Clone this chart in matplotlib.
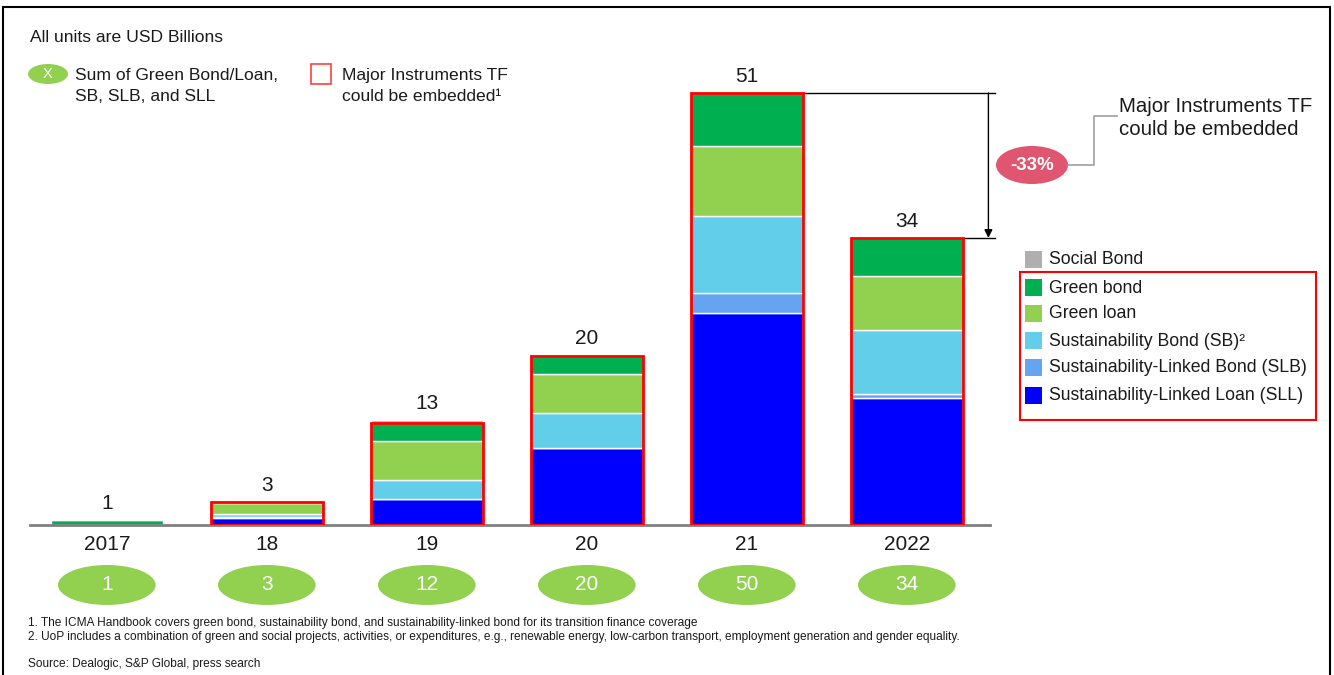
import numpy as np
import matplotlib
matplotlib.use("Agg")
import matplotlib.pyplot as plt
from matplotlib.patches import Rectangle, Ellipse
from matplotlib.lines import Line2D

plt.rcParams['font.family'] = ['Liberation Sans', 'DejaVu Sans']

# ===== data (USD bn) =====
years = ['2017', '18', '19', '20', '21', '2022']
social_bond = [0.0, 0.0, 0.3, 0.2, 0.0, 0.0]
green_bond = [0.6, 0.15, 2.2, 2.1, 6.3, 4.5]
green_loan = [0.0, 1.2, 4.6, 4.6, 8.3, 6.4]
sb = [0.0, 0.45, 2.2, 4.1, 9.0, 7.6]
slb = [0.0, 0.1, 0.0, 0.05, 2.4, 0.45]
sll = [0.0, 0.8, 3.1, 9.1, 25.1, 15.0]
total_labels = ['1', '3', '13', '20', '51', '34']
sum_labels = ['1', '3', '12', '20', '50', '34']
tf_box = [False, True, True, True, True, True]

series = [
    ('Sustainability-Linked Loan (SLL)', sll, '#0000FF'),
    ('Sustainability-Linked Bond (SLB)', slb, '#66A3F0'),
    ('Sustainability Bond (SB)²', sb, '#63CEEA'),
    ('Green loan', green_loan, '#92D050'),
    ('Green bond', green_bond, '#00B050'),
    ('Social Bond', social_bond, '#AFAFAF'),
]

W, H = 1334, 675
fig = plt.figure(figsize=(W / 100, H / 100), dpi=100)

def fx(px):
    return px / W

def fy(py):
    return 1 - py / H

# main axes: baseline at y=525px, x from 30 to 990 px
ax = fig.add_axes([fx(30), fy(525), fx(990) - fx(30), fy(60) - fy(525)])
ax.set_xlim(-0.48, 5.52)
ax.set_ylim(0, 55)
ax.axis('off')

x = np.arange(len(years))
bw = 0.7
bottom = np.zeros(len(years))
for name, vals, col in series:
    vals = np.array(vals)
    ax.bar(x, vals, bw, bottom=bottom, color=col, edgecolor='white', linewidth=1.0)
    bottom += vals

# red boxes = instruments TF could be embedded
core = np.array(sll) + np.array(slb) + np.array(sb) + np.array(green_loan) + np.array(green_bond)
for i in range(len(years)):
    if tf_box[i]:
        ax.add_patch(Rectangle((x[i] - bw / 2, 0), bw, core[i], fill=False,
                               edgecolor='#FF0000', linewidth=2, zorder=5))

# baseline
ax.plot([-0.48, 5.52], [0, 0], color='#808080', lw=2, clip_on=False, zorder=4)

# totals above bars
for i in range(len(years)):
    ax.annotate(total_labels[i], (x[i], bottom[i]), xytext=(0, 5), textcoords='offset points',
                ha='center', va='bottom', fontsize=15, color='#1a1a1a')

# year labels + sum ellipses
xt = ax.get_xaxis_transform()
for i in range(len(years)):
    ax.text(x[i], -0.043, years[i], transform=xt, ha='center', va='center',
            fontsize=15, color='#1a1a1a', clip_on=False)
    ax.add_patch(Ellipse((x[i], -0.129), 0.61, 0.086, transform=xt,
                         facecolor='#92D050', edgecolor='none', clip_on=False))
    ax.text(x[i], -0.129, sum_labels[i], transform=xt, ha='center', va='center',
            fontsize=15, color='white', clip_on=False)

# -33% bracket between 2021 and 2022
ax.plot([x[4] + bw / 2, 5.55], [core[4], core[4]], color='black', lw=1, clip_on=False)
ax.plot([x[5] + bw / 2, 5.55], [core[5], core[5]], color='black', lw=1, clip_on=False)
ax.annotate('', xy=(5.51, core[5]), xytext=(5.51, core[4]),
            arrowprops=dict(arrowstyle='-|>', color='black', lw=1, mutation_scale=12,
                            shrinkA=0, shrinkB=0), annotation_clip=False)

fig.patches.append(Ellipse((fx(1032), fy(165)), 72 / W, 38 / H, transform=fig.transFigure,
                           facecolor='#E05570', edgecolor='none'))
fig.text(fx(1032), fy(165), '-33%', ha='center', va='center', fontsize=13.5,
         color='white', fontweight='bold')
fig.lines.append(Line2D([fx(1068), fx(1094), fx(1094), fx(1117)],
                        [fy(165), fy(165), fy(116), fy(116)],
                        transform=fig.transFigure, color='#A0A0A0', lw=1.2))
fig.text(fx(1119), fy(118), 'Major Instruments TF\ncould be embedded', ha='left',
         va='center', fontsize=14.7, color='#1a1a1a', linespacing=1.3)

# top-left legend
fig.text(fx(30), fy(37), 'All units are USD Billions', ha='left', va='center',
         fontsize=12.6, color='#1a1a1a')
fig.patches.append(Ellipse((fx(48), fy(74)), 40 / W, 20 / H, transform=fig.transFigure,
                           facecolor='#92D050', edgecolor='none'))
fig.text(fx(48), fy(74), 'X', ha='center', va='center', fontsize=10.5, color='white')
fig.text(fx(75), fy(86), 'Sum of Green Bond/Loan,\nSB, SLB, and SLL', ha='left',
         va='center', fontsize=12.6, color='#1a1a1a', linespacing=1.45)
fig.patches.append(Rectangle((fx(311), fy(84)), 20 / W, 20 / H, transform=fig.transFigure,
                             facecolor='white', edgecolor='#FF4040', lw=1.2))
fig.text(fx(342), fy(86), 'Major Instruments TF\ncould be embedded¹', ha='left',
         va='center', fontsize=12.6, color='#1a1a1a', linespacing=1.45)

# right legend
leg_y = [260, 288, 314, 341, 368, 396]
leg_items = list(reversed(series))
for (name, vals, col), py in zip(leg_items, leg_y):
    fig.patches.append(Rectangle((fx(1025), fy(py + 8)), 17 / W, 17 / H,
                                 transform=fig.transFigure, facecolor=col, edgecolor='none'))
    fig.text(fx(1049), fy(py), name, ha='left', va='center', fontsize=12.7, color='#1a1a1a')
fig.patches.append(Rectangle((fx(1020), fy(420)), 296 / W, 148 / H, transform=fig.transFigure,
                             fill=False, edgecolor='#FF0000', lw=1.5))

# footnotes
narrow = ['Liberation Sans Narrow', 'Liberation Sans']
foot = ['1. The ICMA Handbook covers green bond, sustainability bond, and sustainability-linked bond for its transition finance coverage',
        '2. UoP includes a combination of green and social projects, activities, or expenditures, e.g., renewable energy, low-carbon transport, employment generation and gender equality.']
fig.text(fx(28), fy(623), foot[0], ha='left', va='center', fontsize=8.6,
         family=narrow, color='#1a1a1a')
fig.text(fx(28), fy(637), foot[1], ha='left', va='center', fontsize=8.6,
         family=narrow, color='#1a1a1a')
fig.text(fx(28), fy(664), 'Source: Dealogic, S&P Global, press search', ha='left', va='center',
         fontsize=8.6, family=narrow, color='#1a1a1a')

# outer frame
fig.patches.append(Rectangle((fx(3), fy(680)), 1327 / W, 673 / H, transform=fig.transFigure,
                             fill=False, edgecolor='black', lw=1.5))

fig.savefig('out.png', dpi=100)
